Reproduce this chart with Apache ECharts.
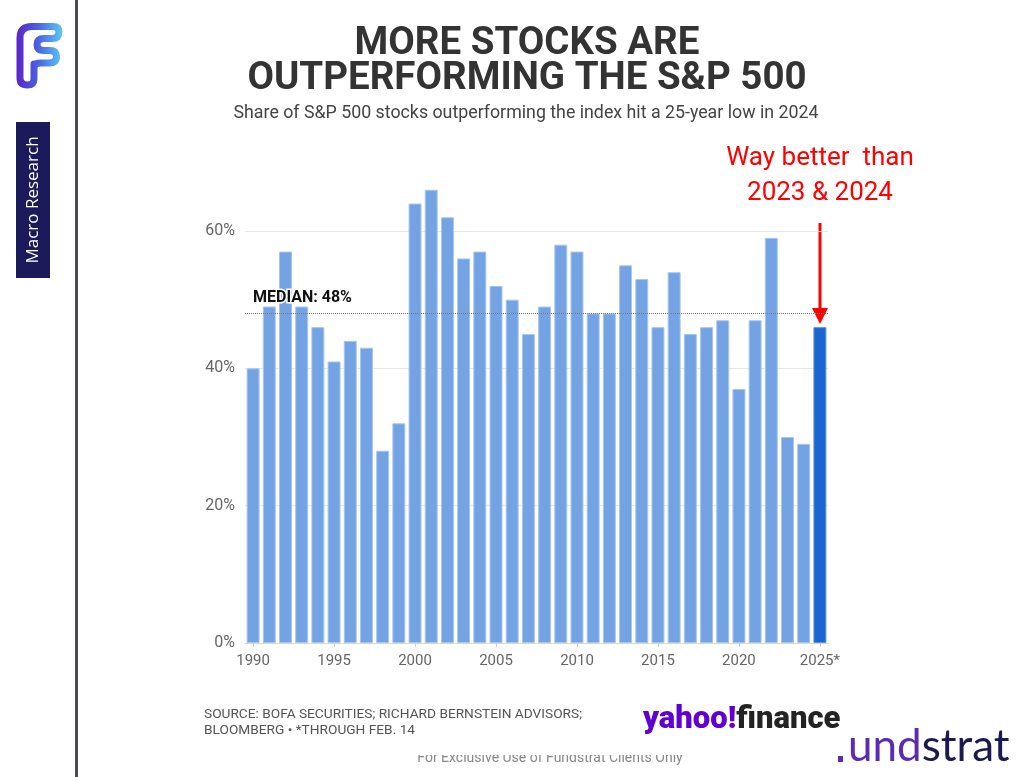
<!DOCTYPE html>
<html>
<head>
<meta charset="utf-8">
<script src="https://cdn.jsdelivr.net/npm/echarts@6/dist/echarts.min.js"></script>
<style>
html,body{margin:0;padding:0;background:#fff;}
#c{width:1024px;height:777px;}
</style>
</head>
<body>
<div id="c"></div>
<script>
const years = ['1990','1991','1992','1993','1994','1995','1996','1997','1998','1999',
  '2000','2001','2002','2003','2004','2005','2006','2007','2008','2009',
  '2010','2011','2012','2013','2014','2015','2016','2017','2018','2019',
  '2020','2021','2022','2023','2024','2025*'];
const shareOutperforming = [40,49,57,49,46,41,44,43,28,32,
  64,66,62,56,57,52,50,45,49,58,
  57,48,48,55,53,46,54,45,46,47,
  37,47,59,30,29,46];
const highlightYear = '2025*';
const medianValue = 48;

const logoPathData = 'M 34 64 L 34 79 Q 34 85 27.5 85 Q 20 85 20 78 L 20 38 Q 20 26.5 32 26.5 L 53 26.5 Q 59 26.5 59 32 Q 59 38.5 52 38.5 L 44 38.5 Q 37 38.5 37 44.5 Q 37 50.5 44 50.5 L 50 50.5 Q 56.5 50.5 56.5 56.5 Q 56.5 63 49 63 L 40 63 Q 34 63 34 68';
try {
  echarts.graphic.registerShape('logoF', echarts.graphic.extendPath(logoPathData, {}));
} catch (e) { console.log(e); }

const chart = echarts.init(document.getElementById('c'), null, {renderer:'canvas'});

const barData = shareOutperforming.map((v,i)=>({
  value: v,
  itemStyle: years[i] === highlightYear ? {color:'#1a66d0', borderColor:'#5b8fe0'} : undefined
}));

const graphics = [
    {type:'rect', shape:{x:75, y:0, width:3, height:777}, style:{fill:'#4b4a5c'}},
    {type:'rect', shape:{x:16, y:122, width:34, height:156}, style:{fill:'#1d1a5c'}},
    {type:'text', x:33, y:200, rotation:Math.PI/2,
      style:{text:'Macro Research', fill:'#ffffff', font:'17px "Open Sans", Roboto, sans-serif', align:'center', verticalAlign:'middle'}},
    {type:'text', x:527, y:44, style:{text:'MORE STOCKS ARE', fill:'#333', font:'bold 38.5px Roboto, sans-serif', align:'center', verticalAlign:'middle'}},
    {type:'text', x:527, y:79, style:{text:'OUTPERFORMING THE S&P 500', fill:'#333', font:'bold 38.5px Roboto, sans-serif', align:'center', verticalAlign:'middle'}},
    {type:'text', x:526, y:114, style:{text:'Share of S&P 500 stocks outperforming the index hit a 25-year low in 2024', fill:'#444', font:'17.8px Roboto, sans-serif', align:'center', verticalAlign:'middle'}},
    {type:'text', x:820, y:158, style:{text:'Way better  than', fill:'#ff0000', font:'26px "Liberation Sans Narrow", Roboto, sans-serif', align:'center', verticalAlign:'middle'}},
    {type:'text', x:820, y:193, style:{text:'2023 & 2024', fill:'#ff0000', font:'26px "Liberation Sans Narrow", Roboto, sans-serif', align:'center', verticalAlign:'middle'}},
    {type:'line', shape:{x1:820, y1:223, x2:820, y2:310}, style:{stroke:'#ff0000', lineWidth:3}},
    {type:'polygon', shape:{points:[[812,308],[828,308],[820,324]]}, style:{fill:'#ff0000'}},
    {type:'text', x:253, y:298, z:100, style:{text:'MEDIAN: 48%', fill:'#111', font:'bold 16px Roboto, sans-serif', align:'left', verticalAlign:'middle', stroke:'#fff', lineWidth:3}},
    {type:'text', x:204, y:715, style:{text:'SOURCE: BOFA SECURITIES; RICHARD BERNSTEIN ADVISORS;', fill:'#555', font:'13.7px "Liberation Sans Narrow", Roboto, sans-serif', align:'left', verticalAlign:'middle'}},
    {type:'text', x:204, y:731, style:{text:'BLOOMBERG • *THROUGH FEB. 14', fill:'#555', font:'13.7px "Liberation Sans Narrow", Roboto, sans-serif', align:'left', verticalAlign:'middle'}},
    {type:'text', x:643, y:720, style:{text:'{y|yahoo!}{f|finance}', align:'left', verticalAlign:'middle',
      rich:{y:{fill:'#6001d2', font:'900 31px Roboto, sans-serif'}, f:{fill:'#232323', font:'900 31px Roboto, sans-serif'}}}},
    {type:'text', x:550, y:758, style:{text:'For Exclusive Use of Fundstrat Clients Only', fill:'#888', font:'14px Roboto, sans-serif', align:'center', verticalAlign:'middle'}},
    {type:'rect', z:50, shape:{x:380, y:742, width:340, height:13}, style:{fill:'#fff'}},
    {type:'rect', shape:{x:838, y:756, width:5, height:6}, style:{fill:'#5b2bb5'}},
    {type:'text', x:848, y:747, style:{text:'{a|und}{b|strat}', align:'left', verticalAlign:'middle',
      rich:{a:{fill:'#5b2bb5', font:'44px Lato, sans-serif'}, b:{fill:'#1b1a50', font:'44px Lato, sans-serif'}}}}
];
graphics.push({type:'logoF', shape:{},
  style:{fill:null, lineWidth:7, lineCap:'round', lineJoin:'round',
    stroke:{type:'linear', x:0, y:0, x2:1, y2:0, colorStops:[{offset:0,color:'#5a25c9'},{offset:0.45,color:'#4a5fe0'},{offset:1,color:'#5cc9f7'}]}}});

const option = {
  animation:false,
  backgroundColor:'#ffffff',
  grid:{left:245, right:196, top:231, bottom:134, containLabel:false},
  xAxis:{
    type:'category',
    data:years,
    axisLine:{show:true, lineStyle:{color:'#d8d8d8', width:1}},
    axisTick:{show:true, alignWithLabel:true, interval:4, length:4, lineStyle:{color:'#d0d0d0'}},
    axisLabel:{interval:4, color:'#666', fontFamily:'Roboto', fontSize:15, margin:11}
  },
  yAxis:{
    type:'value', min:0, max:60, interval:20,
    axisLine:{show:false}, axisTick:{show:false},
    splitLine:{lineStyle:{color:'#e6e6e6', width:1}},
    axisLabel:{formatter:v=>v+'%', color:'#666', fontFamily:'Roboto', fontSize:16, margin:10}
  },
  series:[{
    type:'bar',
    data:barData,
    clip:false,
    barCategoryGap:'20%',
    itemStyle:{color:'#74a3e3', borderColor:'#a8c5f0', borderWidth:1},
    markLine:{
      silent:true, symbol:'none',
      label:{show:false},
      lineStyle:{type:'dotted', color:'#777', width:1},
      data:[{yAxis:medianValue}]
    }
  }],
  graphic:graphics
};
chart.setOption(option);
</script>
</body>
</html>
